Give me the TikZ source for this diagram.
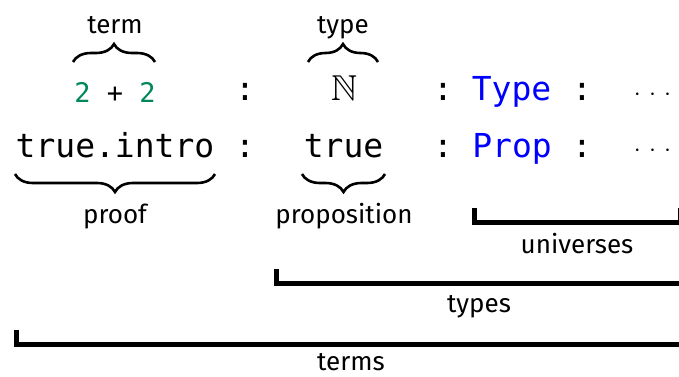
\documentclass[tikz,border=0pt]{standalone}
\usepackage{amssymb}
\usepackage{fontspec}
\setsansfont{Fira Sans}
\setmonofont{DejaVu Sans Mono}
\usetikzlibrary{decorations.pathreplacing}
\definecolor{codegreen}{RGB}{0,135,90}
\definecolor{codeblue}{RGB}{0,0,255}
\newcommand{\spreaddots}{${\cdot}\mkern6mu{\cdot}\mkern6mu{\cdot}$}
\tikzset{
  code/.style={anchor=base, inner sep=0pt, font=\fontsize{33}{36}\selectfont\ttfamily},
  smallcode/.style={anchor=base, inner sep=0pt, font=\fontsize{27}{30}\selectfont\ttfamily},
  label/.style={anchor=base, inner sep=0pt, font=\fontsize{26}{30}\selectfont\sffamily},
  bigmath/.style={anchor=base, inner sep=0pt, font=\fontsize{36}{40}\selectfont},
  dotsm/.style={anchor=base, inner sep=0pt, font=\fontsize{38}{42}\selectfont},
  bracebar/.style={decorate, decoration={brace, amplitude=18pt}, line width=2.6pt},
  scopebar/.style={line width=5pt, line join=miter}
}
\begin{document}
\begin{tikzpicture}[x=1pt, y=-1pt]
\useasboundingbox (0,0) rectangle (679,376);
% row 1
\node[smallcode] (twoplus) at (115,102) {\textcolor{codegreen}{2} + \textcolor{codegreen}{2}};
\node[code] (c1a) at (245,100) {:};
\node[bigmath] (nat) at (344,100) {$\mathbb{N}$};
\node[code] (c1b) at (443,100) {:};
\node[code, text=codeblue] (type) at (511.5,100) {Type};
\node[code] (c1c) at (582,100) {:};
\node[dotsm] (dots1) at (652.5,100.5) {\spreaddots};
% row 2
\node[code] (intro) at (115,157) {true.intro};
\node[code] (c2a) at (245,157) {:};
\node[code] (truep) at (343.5,157) {true};
\node[code] (c2b) at (443,157) {:};
\node[code, text=codeblue] (prop) at (512,157) {Prop};
\node[code] (c2c) at (582,157) {:};
\node[dotsm] (dots2) at (652.5,156.5) {\spreaddots};
% braces
\draw[bracebar] (73,62) -- (155,62);
\draw[bracebar] (308,62) -- (378,62);
\draw[bracebar] (215,174) -- (15,174);
\draw[bracebar] (385,174) -- (302,174);
% brace labels
\node[label] (lterm) at (115,33) {term};
\node[label] (ltype) at (343,33) {type};
\node[label] (lproof) at (115,223) {proof};
\node[label] (lprop) at (344,223) {proposition};
% scope brackets
\draw[scopebar] (474.5,208) |- (680,222.5) -- (680,208);
\node[label] (luniv) at (577,253) {universes};
\draw[scopebar] (276.5,269) |- (695,283.5);
\node[label] (ltypes) at (479,312) {types};
\draw[scopebar] (16.5,330) |- (695,344.5);
\node[label] (lterms) at (351,370) {terms};
\end{tikzpicture}
\end{document}
